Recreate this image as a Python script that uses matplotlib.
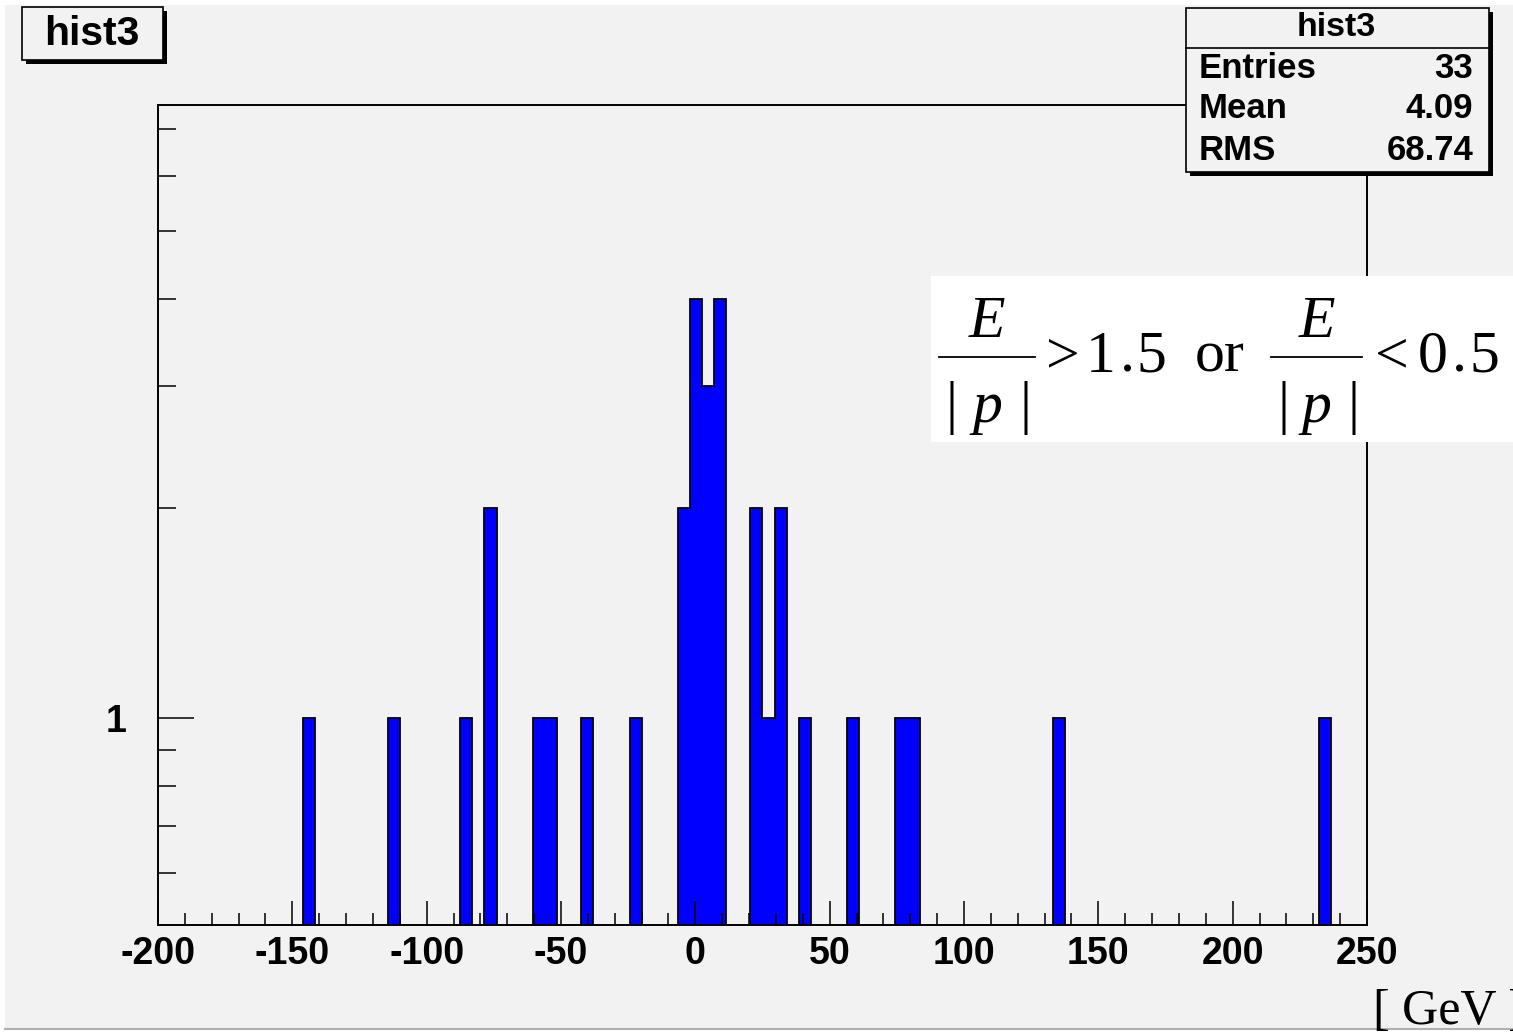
import numpy as np
import matplotlib.pyplot as plt
from matplotlib.patches import Rectangle
from matplotlib.ticker import FixedLocator, NullFormatter

plt.rcParams["axes.unicode_minus"] = False

W, H = 1513, 1033

# histogram binning: 100 bins from -200 to 250
x_min, x_max, n_bins = -200, 250, 100
# filled bins (lower edge in GeV) and their counts
bin_low = [-146, -114.5, -87.5, -78.5, -60.5, -56, -42.5, -24.5, -6.5, -2, 2.5, 7,
           20.5, 25, 29.5, 38.5, 56.5, 74.5, 79, 133, 232]
bin_cnt = [1, 1, 1, 2, 1, 1, 1, 1, 2, 4, 3, 4,
           2, 1, 2, 1, 1, 1, 1, 1, 1]

stat_names = ["Entries", "Mean", "RMS"]
stat_vals = ["33", "4.09", "68.74"]

edges = np.linspace(x_min, x_max, n_bins + 1)
centers = np.array(bin_low) + (x_max - x_min) / n_bins / 2
counts, _ = np.histogram(centers, bins=edges, weights=bin_cnt)

y_lo, y_hi = 0.505, 7.58
BG = "#f2f2f2"


def fx(px):
    return px / W


def fy(py):
    return 1 - py / H


fig = plt.figure(figsize=(W / 100, H / 100), dpi=100, facecolor="white")
# canvas
fig.add_artist(Rectangle((fx(5), fy(1029)), fx(1513 - 5), (1029 - 5) / H,
                         transform=fig.transFigure, facecolor=BG, edgecolor="none", zorder=0))
fig.add_artist(plt.Line2D([fx(5), 1], [fy(1029), fy(1029)], transform=fig.transFigure,
                          color="#b0b0b0", lw=1.5))

ax = fig.add_axes([fx(158), fy(925), fx(1367 - 158), (925 - 105) / H])
ax.set_facecolor(BG)
ax.set_yscale("log")

vals = np.where(counts > 0, counts, 0.3)
ax.stairs(vals, edges, baseline=0.3, fill=True, facecolor="#0000ff", edgecolor="none")
ax.stairs(vals, edges, baseline=0.3, color="black", lw=1.3)

ax.set_xlim(x_min, x_max)
ax.set_ylim(y_lo, y_hi)

for s in ax.spines.values():
    s.set_linewidth(1.4)

ax.set_xticks(np.arange(-200, 251, 50))
ax.xaxis.set_minor_locator(FixedLocator(np.arange(-200, 251, 10)))
ax.tick_params(axis="x", which="major", direction="in", length=17, width=1.1,
               labelsize=27, pad=8, top=False)
ax.tick_params(axis="x", which="minor", direction="in", length=8.5, width=1.1, top=False)
ax.set_yticks([1])
ax.set_yticklabels(["1"])
ax.yaxis.set_minor_locator(FixedLocator([0.6, 0.7, 0.8, 0.9, 2, 3, 4, 5, 6, 7]))
ax.yaxis.set_minor_formatter(NullFormatter())
ax.tick_params(axis="y", which="major", direction="in", length=26, width=1.1,
               labelsize=27, pad=23, right=False)
ax.tick_params(axis="y", which="minor", direction="in", length=13, width=1.1, right=False)
for lab in ax.get_xticklabels() + ax.get_yticklabels():
    lab.set_fontweight("bold")
    lab.set_family("Liberation Sans")


def shadow_box(x0, y0, x1, y1, off=4):
    fig.add_artist(Rectangle((fx(x0 + off), fy(y1 + off)), fx(x1 - x0), (y1 - y0) / H,
                             transform=fig.transFigure, facecolor="black", edgecolor="none", zorder=5))
    fig.add_artist(Rectangle((fx(x0), fy(y1)), fx(x1 - x0), (y1 - y0) / H,
                             transform=fig.transFigure, facecolor=BG, edgecolor="black",
                             lw=1.2, zorder=6))


# title box
shadow_box(22, 7, 163, 60)
fig.text(fx(92), fy(34), "hist3", ha="center", va="center", fontsize=29.5,
         fontweight="bold", family="Liberation Sans", zorder=7)

# stats box
shadow_box(1186, 8, 1489, 172)
fig.add_artist(plt.Line2D([fx(1186), fx(1489)], [fy(48), fy(48)], transform=fig.transFigure,
                          color="black", lw=1.2, zorder=7))
fig.text(fx(1336), fy(28), "hist3", ha="center", va="center", fontsize=24.5,
         fontweight="bold", family="Liberation Sans", zorder=7)
for i, (n, v) in enumerate(zip(stat_names, stat_vals)):
    yy = 68 + 41 * i
    fig.text(fx(1199), fy(yy), n, ha="left", va="center", fontsize=25,
             fontweight="bold", family="Liberation Sans", zorder=7)
    fig.text(fx(1473), fy(yy), v, ha="right", va="center", fontsize=25,
             fontweight="bold", family="Liberation Sans", zorder=7)

# E/|p| cut label, laid out piece by piece
fig.add_artist(Rectangle((fx(931), fy(442)), fx(1513 - 931), (442 - 276) / H,
                         transform=fig.transFigure, facecolor="white", edgecolor="none", zorder=8))
serif = dict(family="Liberation Serif", fontsize=43, zorder=9)


def frac(x0, x1):
    xc = (x0 + x1) / 2
    fig.add_artist(plt.Line2D([fx(x0), fx(x1)], [fy(357), fy(357)], transform=fig.transFigure,
                              color="black", lw=1.3, zorder=9))
    fig.text(fx(xc), fy(337), "E", ha="center", va="baseline", style="italic", **serif)
    fig.text(fx(xc), fy(422), "p", ha="center", va="baseline", style="italic", **serif)
    fig.text(fx(x0 + 13), fy(422), "|", ha="center", va="baseline", **serif)
    fig.text(fx(x1 - 9), fy(422), "|", ha="center", va="baseline", **serif)


def chars(s, xs, y=372):
    for c, x in zip(s, xs):
        fig.text(fx(x), fy(y), c, ha="center", va="baseline", **serif)


frac(939, 1035)
chars(">1.5", [1063, 1101, 1127, 1151])
fig.text(fx(1195), fy(372), "or", ha="left", va="baseline", **serif)
frac(1271, 1362)
chars("<0.5", [1392, 1433, 1459, 1484])

fig.text(fx(1373), fy(1024), "[ GeV ]", ha="left", va="baseline", fontsize=36,
         family="Liberation Serif", zorder=9)

fig.savefig("out.png", dpi=100, facecolor=fig.get_facecolor())
